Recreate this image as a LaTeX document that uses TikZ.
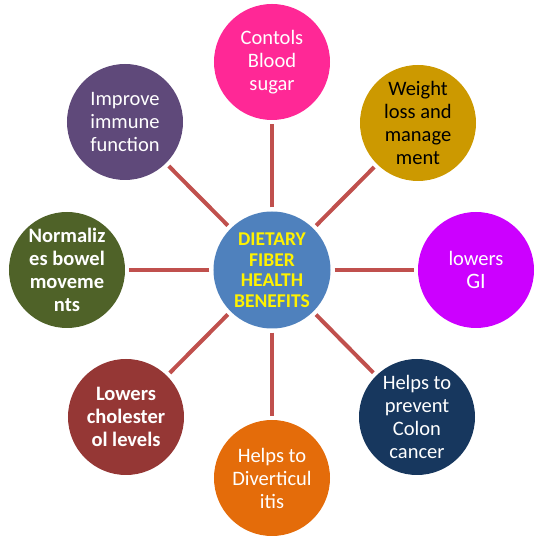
\documentclass[tikz,border=0pt]{standalone}
\usepackage{fontspec}
\setmainfont{Carlito}
\definecolor{hubblue}{HTML}{4F81BD}
\definecolor{linkred}{HTML}{C0504D}
\definecolor{sugarpink}{RGB}{255,40,150}
\definecolor{weightgold}{HTML}{CC9900}
\definecolor{gimagenta}{RGB}{204,0,255}
\definecolor{colonnavy}{HTML}{17375E}
\definecolor{divorange}{HTML}{E46C0A}
\definecolor{cholred}{HTML}{953735}
\definecolor{bowelolive}{HTML}{4F6228}
\definecolor{immunepurple}{HTML}{5F497A}
\tikzset{
  benefit/.style={circle,minimum size=116pt,inner sep=0pt,align=center,
    text=white,font=\fontsize{20.5}{23}\selectfont},
  link/.style={linkred,line width=4pt,shorten <=4pt,shorten >=4pt}
}
\begin{document}
\begin{tikzpicture}[x=1pt,y=1pt]
\useasboundingbox (-272,-270) rectangle (277,270);

\node[circle,fill=hubblue,minimum size=117pt,inner sep=0pt,align=center,
  text=yellow,font=\fontsize{19.5}{20.5}\selectfont\bfseries] (hub) at (0,0)
  {DIETARY\\FIBER\\HEALTH\\BENEFITS};

\node[benefit,fill=sugarpink] (sugar) at (0,208) {Contols\\Blood\\sugar};
\node[benefit,fill=weightgold,text=black] (weight) at (146,147) {Weight\\loss and\\manage\\ment};
\node[benefit,fill=gimagenta] (gi) at (204,0) {lowers\\{\fontsize{22}{24}\selectfont GI}};
\node[benefit,fill=colonnavy] (colon) at (145,-147) {Helps to\\prevent\\Colon\\cancer};
\node[benefit,fill=divorange] (divert) at (0,-208) {Helps to\\Diverticul\\itis};
\node[benefit,fill=cholred,font=\fontsize{20.5}{23}\selectfont\bfseries] (chol) at (-146,-147) {Lowers\\cholester\\ol levels};
\node[benefit,fill=bowelolive,font=\fontsize{20.5}{23}\selectfont\bfseries] (bowel) at (-205,0) {Normaliz\\es bowel\\moveme\\nts};
\node[benefit,fill=immunepurple] (immune) at (-147,148) {Improve\\immune\\function};

\foreach \b in {sugar,weight,gi,colon,divert,chol,bowel,immune}
  \draw[link] (hub) -- (\b);
\end{tikzpicture}
\end{document}
